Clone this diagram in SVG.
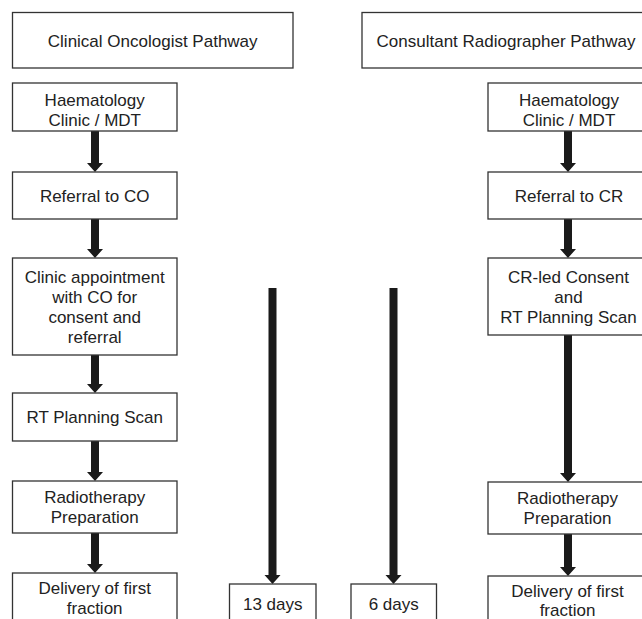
<svg xmlns="http://www.w3.org/2000/svg" width="642" height="619" viewBox="0 0 642 619">
<style>
.box{fill:#fff;stroke:#333;stroke-width:1.3}
.t{font-family:"Liberation Sans",Arial,sans-serif;font-size:17px;fill:#222;text-anchor:middle}
.arrow{fill:#1a1a1a}
</style>
<rect width="642" height="619" fill="#fff"/>
<g id="connectors">
<path class="arrow" d="M91 131H99V163H103L95 172L87 163H91Z"/>
<path class="arrow" d="M91 219H99V249H103L95 258L87 249H91Z"/>
<path class="arrow" d="M91 355H99V384H103L95 393L87 384H91Z"/>
<path class="arrow" d="M91 441H99V472H103L95 481L87 472H91Z"/>
<path class="arrow" d="M91 533H99V564H103L95 573L87 564H91Z"/>
<path class="arrow" d="M268.5 288H276.5V575H280.5L272.5 584L264.5 575H268.5Z"/>
<path class="arrow" d="M389.5 288H397.5V575H401.5L393.5 584L385.5 575H389.5Z"/>
<path class="arrow" d="M564 131H572V163H576L568 172L560 163H564Z"/>
<path class="arrow" d="M564 219H572V249H576L568 258L560 249H564Z"/>
<path class="arrow" d="M564 335H572V473H576L568 482L560 473H564Z"/>
<path class="arrow" d="M564 534H572V567H576L568 576L560 567H564Z"/>
</g>
<g id="title-co"><rect class="box" x="12.5" y="12.5" width="280.5" height="55.5"/><text class="t" x="152.7" y="47">Clinical Oncologist Pathway</text></g>
<g id="title-cr"><rect class="box" x="362" y="12.5" width="285" height="55.5"/><text class="t" x="506" y="47">Consultant Radiographer Pathway</text></g>
<g id="co-haem"><rect class="box" x="12.5" y="83" width="164.5" height="48"/><text class="t" x="94.7" y="106">Haematology</text><text class="t" x="94.7" y="125.5">Clinic / MDT</text></g>
<g id="co-referral"><rect class="box" x="12.5" y="172" width="164.5" height="47"/><text class="t" x="94.7" y="201.5">Referral to CO</text></g>
<g id="co-clinic"><rect class="box" x="12.5" y="258" width="164.5" height="97"/><text class="t" x="94.7" y="283">Clinic appointment</text><text class="t" x="94.7" y="303">with CO for</text><text class="t" x="94.7" y="323">consent and</text><text class="t" x="94.7" y="343">referral</text></g>
<g id="co-rtscan"><rect class="box" x="12.5" y="393" width="164.5" height="48"/><text class="t" x="94.7" y="423">RT Planning Scan</text></g>
<g id="co-prep"><rect class="box" x="12.5" y="481" width="164.5" height="52"/><text class="t" x="94.7" y="503">Radiotherapy</text><text class="t" x="94.7" y="523">Preparation</text></g>
<g id="co-delivery"><rect class="box" x="12.5" y="573" width="164.5" height="60"/><text class="t" x="94.7" y="594">Delivery of first</text><text class="t" x="94.7" y="614">fraction</text></g>
<g id="days-13"><rect class="box" x="229.5" y="584" width="86.5" height="50"/><text class="t" x="272.7" y="610">13 days</text></g>
<g id="days-6"><rect class="box" x="351" y="584" width="85.5" height="50"/><text class="t" x="393.7" y="610">6 days</text></g>
<g id="cr-haem"><rect class="box" x="488" y="83" width="162" height="48"/><text class="t" x="569" y="106">Haematology</text><text class="t" x="569" y="125.5">Clinic / MDT</text></g>
<g id="cr-referral"><rect class="box" x="488" y="172" width="162" height="47"/><text class="t" x="569" y="201.5">Referral to CR</text></g>
<g id="cr-consent"><rect class="box" x="488" y="258" width="162" height="77"/><text class="t" x="568.5" y="283">CR-led Consent</text><text class="t" x="568.5" y="303">and</text><text class="t" x="568.5" y="323">RT Planning Scan</text></g>
<g id="cr-prep"><rect class="box" x="488" y="482" width="162" height="52"/><text class="t" x="567.5" y="504">Radiotherapy</text><text class="t" x="567.5" y="524">Preparation</text></g>
<g id="cr-delivery"><rect class="box" x="488" y="576" width="162" height="60"/><text class="t" x="567.5" y="597">Delivery of first</text><text class="t" x="567.5" y="616">fraction</text></g>
</svg>
